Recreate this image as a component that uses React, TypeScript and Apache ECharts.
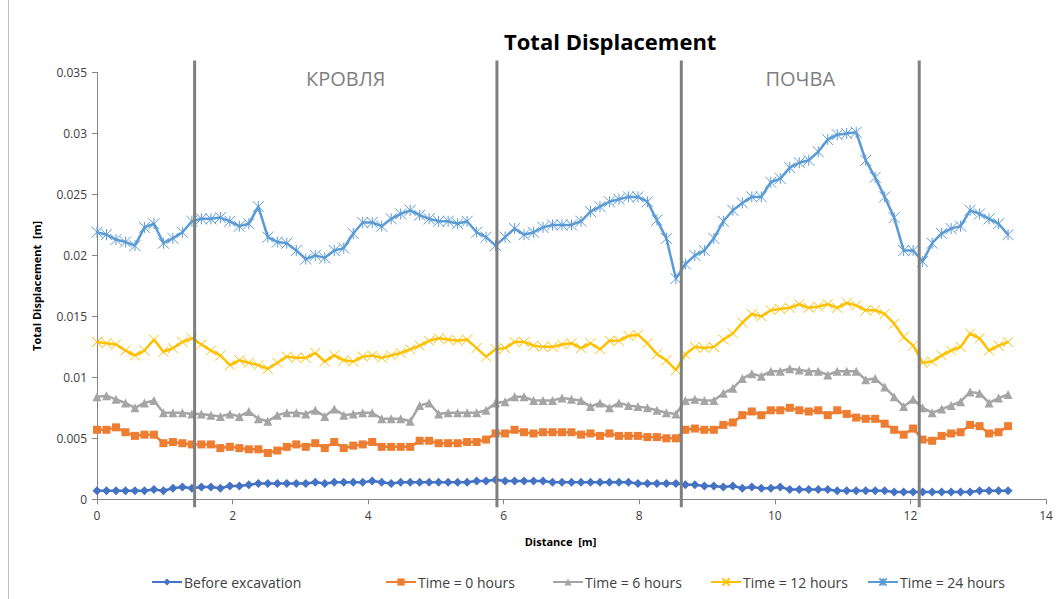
import React, { useEffect, useRef } from "react";
import * as echarts from "echarts";

const DISTANCE = [
  0, 0.14, 0.28, 0.42, 0.56, 0.7, 0.84, 0.98, 1.12, 1.26, 1.4, 1.54, 1.68, 1.82, 1.96, 2.1, 2.24, 2.38, 2.52, 2.66,
  2.8, 2.94, 3.08, 3.22, 3.36, 3.5, 3.64, 3.78, 3.92, 4.06, 4.2, 4.34, 4.48, 4.62, 4.76, 4.9, 5.04, 5.18, 5.32, 5.46,
  5.6, 5.74, 5.88, 6.02, 6.16, 6.3, 6.44, 6.58, 6.72, 6.86, 7.0, 7.14, 7.28, 7.42, 7.56, 7.7, 7.84, 7.98, 8.12, 8.26,
  8.4, 8.54, 8.68, 8.82, 8.96, 9.1, 9.24, 9.38, 9.52, 9.66, 9.8, 9.94, 10.08, 10.22, 10.36, 10.5, 10.64, 10.78, 10.92, 11.06,
  11.2, 11.34, 11.48, 11.62, 11.76, 11.9, 12.04, 12.18, 12.32, 12.46, 12.6, 12.74, 12.88, 13.02, 13.16, 13.3, 13.44,
];

const BEFORE = [
  0.0007, 0.0007, 0.0007, 0.0007, 0.0007, 0.0007, 0.0008, 0.0007, 0.0009, 0.001, 0.0009, 0.001, 0.001, 0.0009, 0.0011, 0.0011, 0.0012, 0.0013, 0.0013, 0.0013,
  0.0013, 0.0013, 0.0013, 0.0014, 0.0013, 0.0014, 0.0014, 0.0014, 0.0014, 0.0015, 0.0014, 0.0013, 0.0014, 0.0014, 0.0014, 0.0014, 0.0014, 0.0014, 0.0014, 0.0014,
  0.0015, 0.0015, 0.0016, 0.0015, 0.0015, 0.0015, 0.0015, 0.0015, 0.0014, 0.0014, 0.0014, 0.0014, 0.0014, 0.0014, 0.0014, 0.0014, 0.0014, 0.0013, 0.0013, 0.0013,
  0.0013, 0.0013, 0.0012, 0.0012, 0.0011, 0.0011, 0.001, 0.0011, 0.0009, 0.001, 0.0009, 0.0009, 0.001, 0.0008, 0.0008, 0.0008, 0.0008, 0.0008, 0.0007, 0.0007,
  0.0007, 0.0007, 0.0007, 0.0007, 0.0006, 0.0006, 0.0006, 0.0006, 0.0006, 0.0006, 0.0006, 0.0006, 0.0006, 0.0007, 0.0007, 0.0007, 0.0007,
];

const T0 = [
  0.0057, 0.0057, 0.0059, 0.0055, 0.0052, 0.0053, 0.0053, 0.0046, 0.0047, 0.0046, 0.0045, 0.0045, 0.0045, 0.0042, 0.0043, 0.0042, 0.0041, 0.0041, 0.0038, 0.004,
  0.0043, 0.0045, 0.0043, 0.0046, 0.0042, 0.0047, 0.0042, 0.0044, 0.0045, 0.0047, 0.0043, 0.0043, 0.0043, 0.0043, 0.0048, 0.0048, 0.0046, 0.0046, 0.0046, 0.0047,
  0.0047, 0.0049, 0.0054, 0.0054, 0.0057, 0.0055, 0.0054, 0.0055, 0.0055, 0.0055, 0.0055, 0.0053, 0.0054, 0.0052, 0.0054, 0.0052, 0.0052, 0.0052, 0.0051, 0.0051,
  0.005, 0.005, 0.0057, 0.0058, 0.0057, 0.0057, 0.0061, 0.0063, 0.0069, 0.0072, 0.0069, 0.0073, 0.0073, 0.0075, 0.0073, 0.0072, 0.0073, 0.0069, 0.0073, 0.007,
  0.0067, 0.0066, 0.0066, 0.0062, 0.0057, 0.0053, 0.0058, 0.0049, 0.0048, 0.0052, 0.0054, 0.0055, 0.0061, 0.006, 0.0054, 0.0055, 0.006,
];

const T6 = [
  0.0084, 0.0085, 0.0082, 0.0079, 0.0075, 0.0079, 0.0081, 0.0071, 0.0071, 0.0071, 0.007, 0.007, 0.0069, 0.0068, 0.007, 0.0068, 0.0072, 0.0066, 0.0064, 0.0069,
  0.0071, 0.0071, 0.007, 0.0073, 0.0068, 0.0074, 0.0069, 0.007, 0.0071, 0.0071, 0.0066, 0.0066, 0.0066, 0.0064, 0.0077, 0.0079, 0.007, 0.0071, 0.0071, 0.0071,
  0.0071, 0.0073, 0.0079, 0.008, 0.0084, 0.0084, 0.0081, 0.0081, 0.0081, 0.0083, 0.0082, 0.0081, 0.0076, 0.0079, 0.0075, 0.0079, 0.0077, 0.0076, 0.0075, 0.0073,
  0.0071, 0.007, 0.0081, 0.0082, 0.0081, 0.0081, 0.0087, 0.0091, 0.0099, 0.0103, 0.0101, 0.0105, 0.0105, 0.0107, 0.0106, 0.0105, 0.0105, 0.0102, 0.0105, 0.0105,
  0.0105, 0.0098, 0.0099, 0.0092, 0.0084, 0.0076, 0.0082, 0.0075, 0.0071, 0.0074, 0.0077, 0.008, 0.0088, 0.0087, 0.0079, 0.0083, 0.0086,
];

const T12 = [
  0.0129, 0.0128, 0.0127, 0.0122, 0.0118, 0.0122, 0.0131, 0.0121, 0.0124, 0.0129, 0.0132, 0.0127, 0.0122, 0.0118, 0.011, 0.0114, 0.0112, 0.011, 0.0107, 0.0112,
  0.0117, 0.0116, 0.0116, 0.012, 0.0113, 0.0118, 0.0114, 0.0113, 0.0117, 0.0118, 0.0116, 0.0118, 0.012, 0.0123, 0.0126, 0.013, 0.0132, 0.0131, 0.013, 0.0131,
  0.0124, 0.0117, 0.0123, 0.0124, 0.0129, 0.0129, 0.0126, 0.0125, 0.0125, 0.0127, 0.0128, 0.0124, 0.0128, 0.0123, 0.013, 0.013, 0.0134, 0.0135, 0.0128, 0.0119,
  0.0114, 0.0106, 0.0119, 0.0125, 0.0124, 0.0125, 0.0131, 0.0136, 0.0145, 0.0152, 0.015, 0.0155, 0.0156, 0.0157, 0.016, 0.0157, 0.0158, 0.016, 0.0157, 0.0161,
  0.0159, 0.0155, 0.0155, 0.0152, 0.0144, 0.0133, 0.0126, 0.0112, 0.0113, 0.0118, 0.0122, 0.0125, 0.0136, 0.0132, 0.0122, 0.0126, 0.0129,
];

const T24 = [
  0.0219, 0.0217, 0.0213, 0.0211, 0.0208, 0.0223, 0.0226, 0.021, 0.0214, 0.0219, 0.0228, 0.023, 0.023, 0.0231, 0.0228, 0.0224, 0.0226, 0.024, 0.0215, 0.0211,
  0.021, 0.0204, 0.0197, 0.02, 0.0198, 0.0204, 0.0206, 0.0218, 0.0227, 0.0227, 0.0224, 0.023, 0.0234, 0.0237, 0.0233, 0.023, 0.0228, 0.0228, 0.0226, 0.0228,
  0.0219, 0.0215, 0.0208, 0.0215, 0.0222, 0.0217, 0.0219, 0.0223, 0.0225, 0.0225, 0.0225, 0.0228, 0.0236, 0.024, 0.0244, 0.0246, 0.0248, 0.0248, 0.0244, 0.0229,
  0.0214, 0.0181, 0.0193, 0.02, 0.0204, 0.0214, 0.0228, 0.0237, 0.0243, 0.0248, 0.0248, 0.026, 0.0263, 0.0272, 0.0276, 0.0278, 0.0285, 0.0295, 0.0299, 0.03,
  0.0301, 0.0278, 0.0264, 0.0248, 0.0231, 0.0204, 0.0204, 0.0195, 0.021, 0.0218, 0.0222, 0.0224, 0.0237, 0.0234, 0.023, 0.0226, 0.0217,
];

const SERIES_NAMES = ["Before excavation", "Time = 0 hours", "Time = 6 hours", "Time = 12 hours", "Time = 24 hours"];
const SERIES_VALUES = [BEFORE, T0, T6, T12, T24];
const DIVIDERS = [1.44, 5.9, 8.62, 12.13];
const ZONE_LABELS = ["КРОВЛЯ", "ПОЧВА"];
const X_TICKS = [0, 14, 2];
const Y_TICKS = [0, 0.035, 0.005];

const COLORS = ["#4472c4", "#ed7d31", "#a5a5a5", "#ffc000", "#5b9bd5"];
const SYMBOLS = [
  "diamond",
  "rect",
  "triangle",
  "path://M0,0 L10,10 M10,0 L0,10",
  "path://M0,0 L10,10 M10,0 L0,10 M5,0 L5,10",
];
const SYMBOL_SIZES = [9, 8, 9, 10, 11];
const LEGEND_LEFTS = [146, 380, 547, 705, 862];

const FONT = "'Open Sans', 'Noto Sans', sans-serif";

export default function App() {
  const ref = useRef<HTMLDivElement>(null);
  useEffect(() => {
    if (!ref.current) return;
    const chart = echarts.init(ref.current, undefined, { renderer: "svg" });
    const zoneCenters = [(DIVIDERS[0] + DIVIDERS[1]) / 2, (DIVIDERS[2] + DIVIDERS[3]) / 2];

    const lineSeries = SERIES_NAMES.map((name, k) => {
      const isPath = SYMBOLS[k].startsWith("path://");
      return {
        name,
        type: "line",
        data: DISTANCE.map((x, i) => [x, SERIES_VALUES[k][i]]),
        symbol: SYMBOLS[k],
        symbolSize: SYMBOL_SIZES[k],
        showAllSymbol: true,
        lineStyle: { color: COLORS[k], width: 2.5 },
        itemStyle: isPath
          ? { color: COLORS[k], borderColor: COLORS[k], borderWidth: 1 }
          : { color: COLORS[k], borderWidth: 0 },
        z: 2,
      };
    });

    const option: any = {
      animation: false,
      backgroundColor: "#ffffff",
      title: {
        text: "Total Displacement",
        left: 499,
        top: 25,
        textStyle: { fontFamily: FONT, fontWeight: "bold", fontSize: 22, color: "#000" },
      },
      grid: { left: 97, right: 14, top: 72.5, bottom: 99.7, containLabel: false },
      legend: SERIES_NAMES.map((name, k) => ({
        data: [name],
        left: LEGEND_LEFTS[k],
        top: 570,
        itemWidth: 30,
        itemHeight: 9,
        itemGap: 0,
        textStyle: { fontFamily: FONT, fontSize: 14, color: "#404040", padding: [0, 0, 0, -3] },
      })),
      xAxis: {
        type: "value",
        min: X_TICKS[0],
        max: X_TICKS[1],
        interval: X_TICKS[2],
        name: "Distance  [m]",
        nameLocation: "middle",
        nameGap: 37,
        nameTextStyle: { fontFamily: FONT, fontWeight: "bold", fontSize: 11, color: "#000", padding: [0, 22, 0, 0] },
        axisLine: { lineStyle: { color: "#868686", width: 1 } },
        axisTick: { show: true, length: 5, lineStyle: { color: "#868686" } },
        axisLabel: { fontFamily: FONT, fontSize: 12, color: "#404040", margin: 10 },
        splitLine: { show: false },
      },
      yAxis: {
        type: "value",
        min: Y_TICKS[0],
        max: Y_TICKS[1],
        interval: Y_TICKS[2],
        name: "Total Displacement  [m]",
        nameLocation: "middle",
        nameGap: 55,
        nameTextStyle: { fontFamily: FONT, fontWeight: "bold", fontSize: 11, color: "#000" },
        axisLine: { show: true, lineStyle: { color: "#868686", width: 1 } },
        axisTick: { show: true, length: 5, lineStyle: { color: "#868686" } },
        axisLabel: { fontFamily: FONT, fontSize: 12, color: "#404040", margin: 10 },
        splitLine: { show: false },
      },
      graphic: [
        { type: "line", shape: { x1: 8.5, y1: 0, x2: 8.5, y2: 599 }, style: { stroke: "#bfbfbf", lineWidth: 1 } },
      ],
      series: [
        ...lineSeries,
        {
          type: "custom",
          name: "dividers",
          silent: true,
          z: 3,
          data: DIVIDERS.map((d) => [d, 0]),
          renderItem: (params: any, api: any) => {
            const p = api.coord([api.value(0), 0]);
            const top = params.coordSys.y;
            const bottom = top + params.coordSys.height;
            return {
              type: "line",
              shape: { x1: p[0], y1: top - 12, x2: p[0], y2: bottom + 8 },
              style: { stroke: "#7f7f7f", lineWidth: 3 },
            };
          },
        },
        {
          type: "custom",
          name: "zones",
          silent: true,
          z: 3,
          data: zoneCenters.map((c) => [c, 0]),
          renderItem: (params: any, api: any) => {
            const p = api.coord([api.value(0), 0]);
            const top = params.coordSys.y;
            return {
              type: "text",
              x: p[0],
              y: top + 6,
              style: {
                text: ZONE_LABELS[params.dataIndex],
                fill: "#7f7f7f",
                font: `20px ${FONT}`,
                align: "center",
                verticalAlign: "middle",
              },
            };
          },
        },
      ],
    };
    chart.setOption(option);
    return () => chart.dispose();
  }, []);
  return (
    <div
      ref={ref}
      style={{ position: "fixed", left: 0, top: 0, width: 1060, height: 599, background: "#fff" }}
    />
  );
}
